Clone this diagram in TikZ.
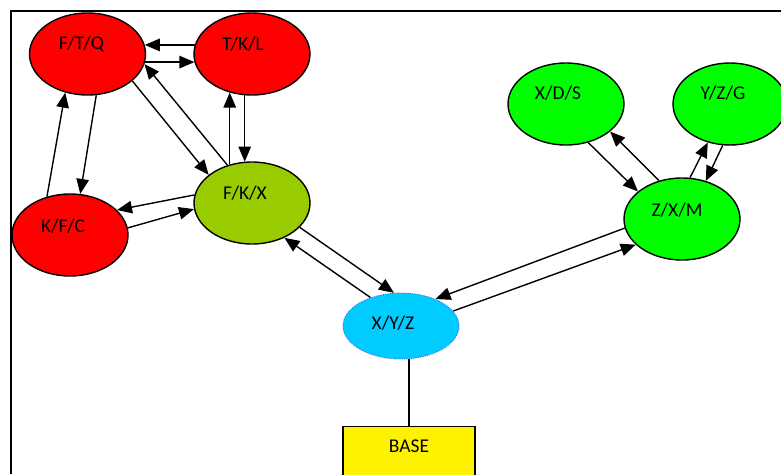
\documentclass[tikz,border=0pt]{standalone}
\usepackage{fontspec}
\setmainfont{Carlito}
\usetikzlibrary{shapes.geometric,arrows.meta}
\tikzset{
  blob/.style={ellipse, draw=black, line width=1.4pt, inner sep=0pt,
               minimum width=116pt, minimum height=82pt},
  redblob/.style={blob, fill=red},
  greenblob/.style={blob, fill=green},
  olive/.style={blob, fill={rgb,255:red,153;green,204;blue,0}},
  cyanblob/.style={ellipse, inner sep=0pt, minimum width=116pt, minimum height=66pt,
               fill={rgb,255:red,0;green,204;blue,255}, draw={rgb,255:red,60;green,90;blue,255},
               line width=0.8pt, densely dotted},
  basebox/.style={rectangle, draw=black, line width=1.4pt, fill=yellow, inner sep=0pt,
               minimum width=132pt, minimum height=60pt},
  txt/.style={font=\fontsize{19.5}{22}\selectfont},
  link/.style={line width=1.4pt, -{Triangle[length=15pt,width=12.5pt]}},
}
\begin{document}
\begin{tikzpicture}[x=1pt,y=-1pt]
\useasboundingbox (0,0) rectangle (781,474);
% frame
\draw[line width=1.8pt] (11,474) -- (11,11) -- (781,11);

% nodes
\node[redblob, label={[txt,xshift=-6pt,yshift=10pt]center:F/T/Q}] (ftq) at (87.5,54) {};
\node[redblob, label={[txt,xshift=-9pt,yshift=10pt]center:T/K/L}] (tkl) at (252,54) {};
\node[olive, label={[txt,xshift=-7pt,yshift=10pt]center:F/K/X}] (fkx) at (252,203) {};
\node[redblob, label={[txt,xshift=-7pt,yshift=9pt]center:K/F/C}] (kfc) at (70,235) {};
\node[cyanblob, label={[txt,xshift=-8pt,yshift=3pt]center:X/Y/Z}] (xyz) at (401,326) {};
\node[greenblob, label={[txt,xshift=-8pt,yshift=11pt]center:X/D/S}] (xds) at (566,104) {};
\node[greenblob, minimum width=114pt, label={[txt,xshift=-7pt,yshift=11pt]center:Y/Z/G}] (yzg) at (730,104) {};
\node[greenblob, label={[txt,xshift=-5pt,yshift=9pt]center:Z/X/M}] (zxm) at (682,219) {};
\node[basebox, anchor=north, label={[txt,yshift=10pt]center:BASE}] (base) at (409,426) {};

% red cluster
\draw[link] (tkl.171) -- (ftq.9);
\draw[link] (ftq.-8) -- (tkl.-172);
\draw[link] (ftq.-31) -- (fkx.147);
\draw[link] (fkx.123) -- (ftq.-10);
\draw[link] (fkx.120) -- (tkl.-120);
\draw[link] (tkl.-100) -- (fkx.100);
\draw[link] (ftq.-78) -- (kfc.76);
\draw[link] (kfc.121) -- (ftq.-120);
\draw[link] (fkx.172) -- (kfc.28);
\draw[link] (kfc.7) -- (fkx.-174);

% links to the hub
\draw[link] (fkx.-27) -- (xyz.102);
\draw[link] (xyz.137) -- (fkx.-47);
\draw[link] (zxm.-171) -- (xyz.38);
\draw[link] (xyz.16) -- (zxm.-151);

% green cluster
\draw[link] (xds.-60) -- (zxm.148);
\draw[link] (zxm.121) -- (xds.-32);
\draw[link] (zxm.79) -- (yzg.-120);
\draw[link] (yzg.-100) -- (zxm.58);

% base
\draw[line width=1.4pt] (base.north) -- (base.north |- xyz.south);
\end{tikzpicture}
\end{document}
